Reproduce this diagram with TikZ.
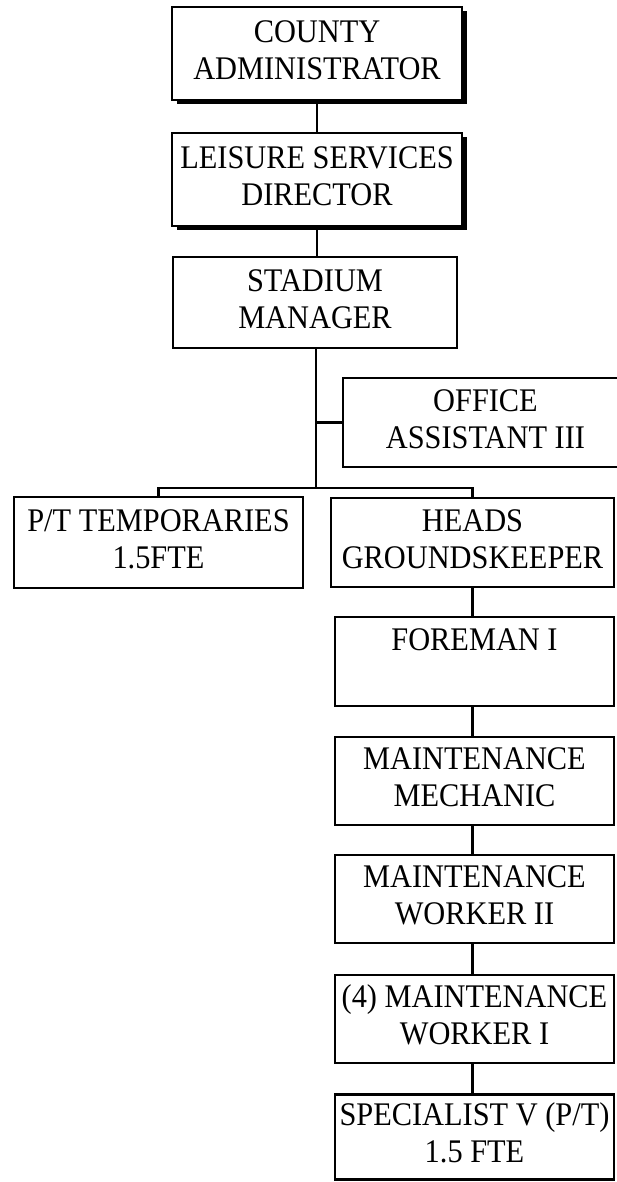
\documentclass[tikz,border=0pt]{standalone}
\usepackage{fontspec}
\setmainfont{Liberation Serif}[FakeStretch=0.92]
\usetikzlibrary{shadows}
\begin{document}
\begin{tikzpicture}[x=1pt,y=-1pt,
  every node/.style={font=\fontsize{33}{37}\selectfont},
  post/.style={draw, line width=2.2pt, fill=white, rectangle, inner sep=0pt,
    align=center, minimum width=#1},
  post/.default=279pt,
  shadowed/.style={drop shadow={shadow xshift=4.5pt, shadow yshift=-4.5pt,
    fill=black, opacity=1}},
  link/.style={line width=2.2pt}]
\useasboundingbox (0,0) rectangle (616,1182);
\fill[white] (0,0) rectangle (616,1182);

% top of the chain
\node[post=290pt, minimum height=93pt, shadowed] (county) at (317,53.5)
  {\strut COUNTY\\\strut ADMINISTRATOR};
\node[post=290pt, minimum height=93pt, shadowed] (leisure) at (317,179.5)
  {\strut LEISURE SERVICES\\\strut DIRECTOR};
\node[post=284pt, minimum height=91pt] (stadium) at (315,302.5)
  {\strut STADIUM\\\strut MANAGER};

% staff reporting to the stadium manager
\node[post=285pt, minimum height=89pt] (office) at (485.5,422.5)
  {\strut OFFICE\\\strut ASSISTANT III};
\node[post=289pt, minimum height=91pt] (pt) at (158.5,542.5)
  {\strut P/T TEMPORARIES\\\strut 1.5FTE};
\node[post=283pt, minimum height=89pt] (heads) at (472.5,542.5)
  {\strut HEADS\\\strut GROUNDSKEEPER};

% grounds crew
\node[post, minimum height=89pt] (foreman) at (474.5,661.5)
  {\strut FOREMAN I\\\strut};
\node[post, minimum height=88pt] (mech) at (474.5,781)
  {\strut MAINTENANCE\\\strut MECHANIC};
\node[post, minimum height=88pt] (wtwo) at (474.5,899)
  {\strut MAINTENANCE\\\strut WORKER II};
\node[post, minimum height=88pt] (wone) at (474.5,1019)
  {\strut (4) MAINTENANCE\\\strut WORKER I};
\node[post, minimum height=85pt] (spec) at (474.5,1137)
  {\strut SPECIALIST V (P/T)\\\strut 1.5 FTE};

% connectors
\draw[link] (county.south) -- (leisure.north);
\draw[link] (leisure.south) -- (leisure.south |- stadium.north);
\path (stadium.south) ++(1,139) coordinate (fork);
\draw[link] (stadium.south -| fork) -- (fork);
\draw[link] (office.west) -- (office.west -| fork);
\draw[link] (pt.north) |- (fork) -| (heads.north);
\draw[link] (heads.south) -- (heads.south |- foreman.north);
\draw[link] (foreman.south -| heads.south) -- (heads.south |- mech.north);
\draw[link] (mech.south -| heads.south) -- (heads.south |- wtwo.north);
\draw[link] (wtwo.south -| heads.south) -- (heads.south |- wone.north);
\draw[link] (wone.south -| heads.south) -- (heads.south |- spec.north);
\end{tikzpicture}
\end{document}
